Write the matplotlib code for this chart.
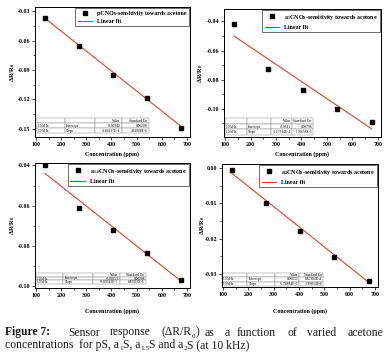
import matplotlib
matplotlib.use("Agg")
import matplotlib.pyplot as plt
from matplotlib.ticker import AutoMinorLocator
import numpy as np

plt.rcParams['font.family'] = ['Liberation Serif', 'DejaVu Serif']
plt.rcParams['mathtext.fontset'] = 'stix'

conc = [135, 270, 405, 540, 675]
pS = [-0.0365, -0.0655, -0.0951, -0.1190, -0.1493]
a1S = [-0.0416, -0.0726, -0.0869, -0.0998, -0.1087]
a15S = [-0.0400, -0.0610, -0.0721, -0.0836, -0.0969]
a2S = [-0.0005, -0.0098, -0.0178, -0.0253, -0.0320]

intercepts = [-0.00942, -0.0341, -0.03053, 0.00636]
slopes = [-2.04297e-4, -1.17914e-4, -9.89341e-5, -5.74884e-5]
intercept_txt = ["-0.00942", "-0.0341", "-0.03053", "0.00636"]
intercept_err = ["0.00208", "0.00796", "0.00308", "8.85384E-4"]
slope_txt = ["-2.04297E-4", "-1.17914E-4", "-9.89341E-5", "-5.74884E-5"]
slope_err = ["4.61088E-6", "1.76656E-5", "6.85016E-6", "1.89014E-6"]

legend_labels = [
    "pCNOs-sensitivity towards acetone",
    r"a$_\mathbf{1}$CNOs-sensitivity towards acetone",
    r"a$_\mathbf{1.5}$CNOs-sensitivity towards acetone",
    r"a$_\mathbf{2}$CNOs-sensitivity towards acetone",
]
series = [pS, a1S, a15S, a2S]
yticks = [[-0.03, -0.06, -0.09, -0.12, -0.15],
          [-0.04, -0.06, -0.08, -0.10],
          [-0.04, -0.06, -0.08, -0.10],
          [0.00, -0.01, -0.02, -0.03]]
ylims = [(-0.1585, -0.0256), (-0.1193, -0.0315), (-0.1009, -0.0388), (-0.0338, 0.00124)]
xticks = [100, 200, 300, 400, 500, 600, 700]

W, H = 386, 361
fig = plt.figure(figsize=(W/100, H/100), dpi=100)

def rect(l, r, t, b):
    return [l/W, 1-b/H, (r-l)/W, (b-t)/H]

rects = [rect(35, 190, 7, 137), rect(224, 381, 9, 137),
         rect(35, 190, 163, 288), rect(222, 378, 164, 287)]
table_boxes = [[0.013, 0.03, 0.72, 0.116], [0.006, 0.016, 0.56, 0.132],
               [0.006, 0.032, 0.71, 0.088], [0.0, 0.008, 0.65, 0.106]]
ylab_x = [13, 201, 13, 203]
xlab_y = [154, 154, 311, 311]

red = '#d9472b'
fs = 4.3
for i in range(4):
    ax = fig.add_axes(rects[i])
    ax.plot(conc, series[i], 's', color='black', ms=2.6, label=legend_labels[i], zorder=3)
    xs = np.array([conc[0], conc[-1]])
    ax.plot(xs, intercepts[i] + slopes[i]*xs, '-', color=red, lw=0.8, label='Linear fit', zorder=2)
    ax.set_xlim(96, 712)
    ax.set_ylim(*ylims[i])
    ax.set_xticks(xticks)
    ax.set_yticks(yticks[i])
    ax.set_yticklabels(['%.2f' % v for v in yticks[i]])
    ax.xaxis.set_minor_locator(AutoMinorLocator(2))
    ax.yaxis.set_minor_locator(AutoMinorLocator(2))
    ax.tick_params(which='both', direction='out', width=0.5, pad=1.5, labelsize=fs)
    ax.tick_params(which='major', length=2)
    ax.tick_params(which='minor', length=1.2)
    for lab in ax.get_xticklabels() + ax.get_yticklabels():
        lab.set_fontweight('bold')
    for s in ax.spines.values():
        s.set_linewidth(0.7)
    leg = ax.legend(loc='upper right', frameon=True, fancybox=False,
                    borderaxespad=0.2, handlelength=2.4, borderpad=0.4,
                    labelspacing=0.5, prop={'weight': 'bold', 'size': fs})
    leg.get_frame().set_edgecolor('black')
    leg.get_frame().set_linewidth(0.5)
    cell = [["", "", "Value", "Standard Err"],
            ["10 kHz", "Intercept", intercept_txt[i], intercept_err[i]],
            ["10 kHz", "Slope", slope_txt[i], slope_err[i]]]
    tb = ax.table(cellText=cell, bbox=table_boxes[i], colWidths=[0.25, 0.27, 0.24, 0.24],
                  cellLoc='left')
    tb.auto_set_font_size(False)
    tb.set_fontsize(2.6)
    for (r, c), cl in tb.get_celld().items():
        cl.set_edgecolor('#8a8a8a')
        cl.set_linewidth(0.35)
        cl.PAD = 0.04
        if c >= 2:
            cl.get_text().set_ha('right')
            cl._loc = 'right'
    cy = rects[i][1] + rects[i][3]/2
    fig.text(ylab_x[i]/W, cy, r"ΔR/R$_\mathbf{0}$", rotation=90, ha='center', va='center',
             fontsize=fs+0.4, fontweight='bold')
    cx = rects[i][0] + rects[i][2]/2
    fig.text(cx, 1 - xlab_y[i]/H, "Concentration (ppm)", ha='center', va='center',
             fontsize=fs, fontweight='bold')

# caption, drawn as runs of plain text with small lowered subscripts
renderer = fig.canvas.get_renderer()
cfs = 8.4
col = '#1a1a1a'

def width_of(s, size, weight='normal'):
    t = fig.text(0, 0, s, fontsize=size, fontweight=weight)
    w = t.get_window_extent(renderer).width
    t.remove()
    return w

def draw_runs(x, yb, runs, align='left'):
    pieces = []
    total = 0
    for s, kind in runs:
        if kind == 'sub':
            w = width_of(s, cfs*0.62)
        else:
            w = width_of(s, cfs, 'bold' if kind == 'b' else 'normal')
        pieces.append((s, kind, w))
        total += w
    if align == 'right':
        x = x - total
    for s, kind, w in pieces:
        if kind == 'sub':
            fig.text(x/W, 1 - (yb + 2.2)/H, s, fontsize=cfs*0.62, va='baseline', ha='left', color=col)
        else:
            fig.text(x/W, 1 - yb/H, s, fontsize=cfs, va='baseline', ha='left', color=col,
                     fontweight='bold' if kind == 'b' else 'normal')
        x += w

yb1, yb2 = 335.5, 348.0
draw_runs(5, yb1, [("Figure 7:", 'b')])
draw_runs(68, yb1, [("Sensor", 'n')])
draw_runs(110, yb1, [("response", 'n')])
draw_runs(162, yb1, [("(ΔR/R", 'n'), ("0", 'sub'), (")", 'n')])
for w, x in [("as", 205), ("a", 225), ("function", 237), ("of", 288), ("varied", 307)]:
    draw_runs(x, yb1, [(w, 'n')])
draw_runs(383, yb1, [("acetone", 'n')], align='right')
draw_runs(5, yb2, [("concentrations  for pS, a", 'n'), ("1", 'sub'), ("S, a", 'n'),
                   ("1.5", 'sub'), ("S and a", 'n'), ("2", 'sub'), ("S (at 10 kHz)", 'n')])

fig.savefig("out.png", dpi=100)
